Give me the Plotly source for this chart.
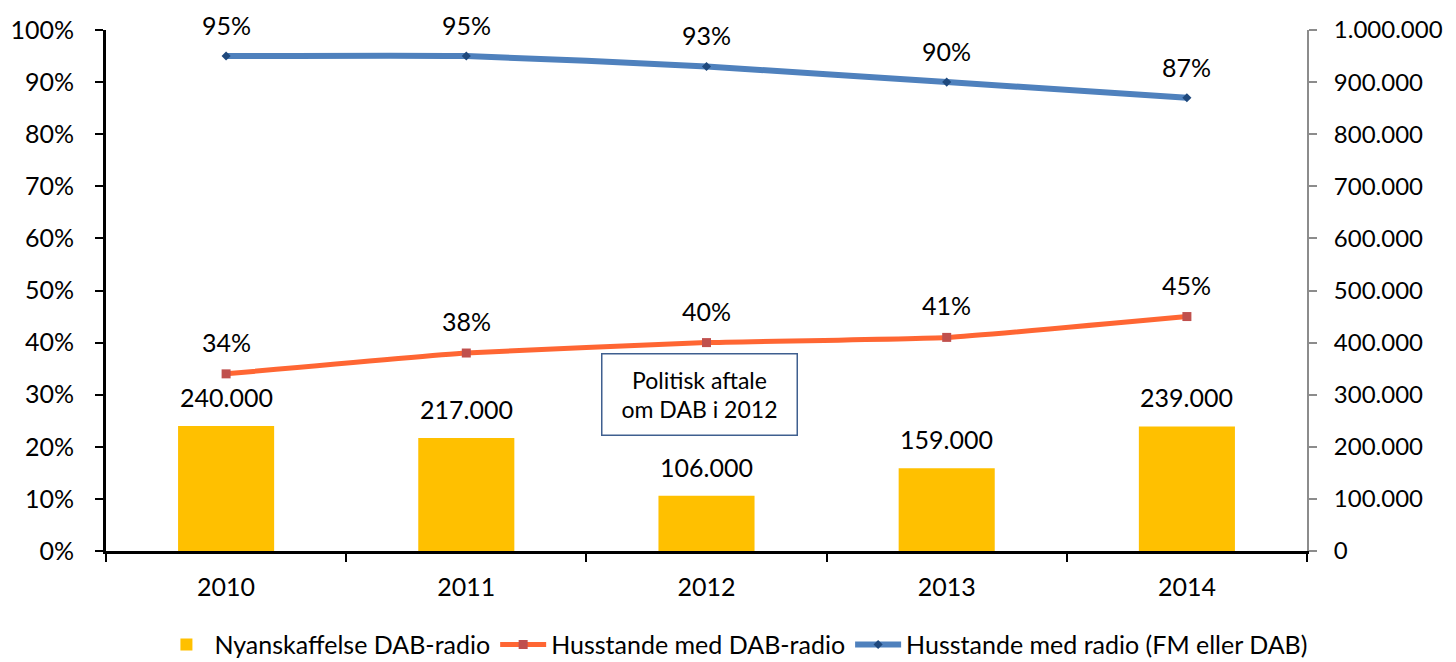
import plotly.graph_objects as go

years = ["2010", "2011", "2012", "2013", "2014"]
new_dab = [240000, 217000, 106000, 159000, 239000]
hh_dab = [34, 38, 40, 41, 45]
hh_radio = [95, 95, 93, 90, 87]
pct_ticks = list(range(0, 101, 10))
pct_labels = [f"{v}%" for v in pct_ticks]
num_ticks = list(range(0, 1000001, 100000))
num_labels = [f"{v:,}".replace(",", ".") for v in num_ticks]

FONT = "Lato"
FS = 25
fig = go.Figure()

fig.add_trace(go.Bar(
    x=years, y=new_dab, name="Nyanskaffelse DAB-radio",
    marker=dict(color="#FFC000", line=dict(width=0)), width=0.4,
    yaxis="y2",
))
fig.add_trace(go.Scatter(
    x=years, y=hh_dab, name="Husstande med DAB-radio", mode="lines+markers",
    line=dict(color="#FF6633", width=5, shape="spline", smoothing=0.4),
    marker=dict(symbol="square", size=9, color="#C0504D"),
))
fig.add_trace(go.Scatter(
    x=years, y=hh_radio, name="Husstande med radio (FM eller DAB)", mode="lines+markers",
    line=dict(color="#4F81BD", width=6, shape="spline", smoothing=0.4),
    marker=dict(symbol="diamond", size=7, color="#1F497D"),
))

lab_font = dict(size=FS, color="black", family=FONT)
for i, v in enumerate(hh_radio):
    fig.add_annotation(x=i, y=v, xref="x", yref="y", text=f"{v}%", showarrow=False,
                       yshift=31, font=lab_font)
for i, v in enumerate(hh_dab):
    fig.add_annotation(x=i, y=v, xref="x", yref="y", text=f"{v}%", showarrow=False,
                       yshift=32, font=lab_font)
for i, v in enumerate(new_dab):
    fig.add_annotation(x=i, y=v, xref="x", yref="y2", text=f"{v:,}".replace(",", "."),
                       showarrow=False, yshift=29, font=lab_font)

fig.add_annotation(x=0.4938, y=0.301, xref="paper", yref="paper",
                   xanchor="center", yanchor="middle",
                   text="Politisk aftale<br>om DAB i 2012", showarrow=False,
                   width=178, height=64, align="center", valign="middle",
                   bordercolor="#3F5F8F", borderwidth=1.5, borderpad=8,
                   bgcolor="white", font=dict(size=23, color="black", family=FONT))

fig.update_layout(
    width=1448, height=654,
    margin=dict(l=98, r=149, t=22, b=111, autoexpand=False),
    paper_bgcolor="white", plot_bgcolor="white",
    font=dict(family=FONT, size=FS, color="black"),
    showlegend=True,
    legend=dict(orientation="h", x=0.5245, xanchor="center", y=-0.18, yanchor="middle",
                font=dict(size=FS, family=FONT), traceorder="normal", itemwidth=46),
    xaxis=dict(type="category", range=[-0.5, 4.5], tickson="boundaries",
               showline=True, linecolor="black", linewidth=3,
               ticks="outside", ticklen=8, tickwidth=2, tickcolor="black",
               ticklabelstandoff=12, automargin=False,
               showgrid=False, tickfont=dict(size=FS)),
    yaxis=dict(range=[0, 100], tickmode="array", tickvals=pct_ticks, ticktext=pct_labels,
               showline=True, linecolor="black", linewidth=3,
               ticks="outside", ticklen=8, tickwidth=2, tickcolor="black",
               ticklabelstandoff=16, automargin=False,
               showgrid=False, zeroline=False, tickfont=dict(size=FS)),
    yaxis2=dict(range=[0, 1000000], tickmode="array", tickvals=num_ticks, ticktext=num_labels,
                overlaying="y", side="right",
                showline=True, linecolor="#8C8C8C", linewidth=2,
                ticks="outside", ticklen=8, tickwidth=2, tickcolor="#8C8C8C",
                ticklabelstandoff=12, automargin=False,
                showgrid=False, zeroline=False, tickfont=dict(size=24)),
)

fig.write_html("out.html")
